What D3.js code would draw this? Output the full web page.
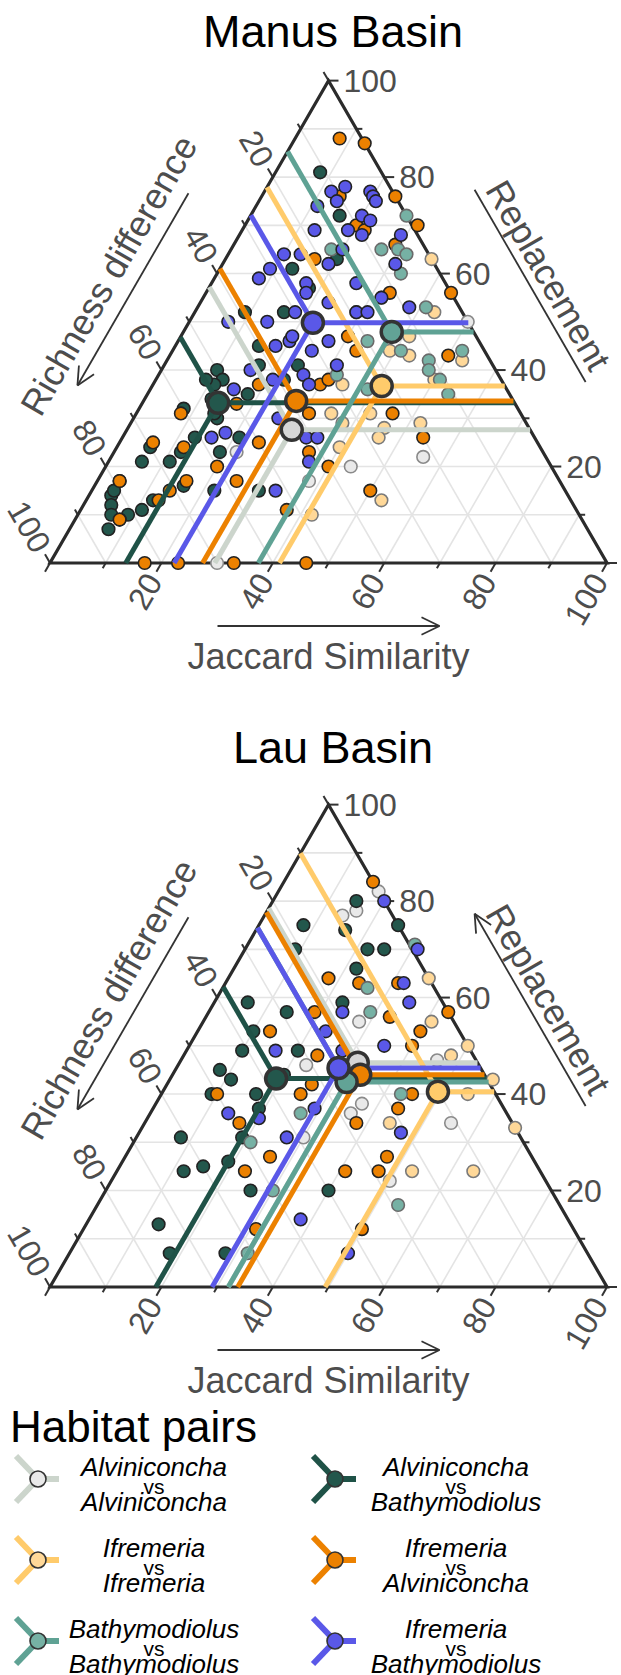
<!DOCTYPE html>
<html>
<head>
<meta charset="utf-8">
<script src="https://cdn.jsdelivr.net/npm/d3@7"></script>
<style>
  body { margin: 0; background: #fff; }
  text { font-family: "Liberation Sans", Arial, sans-serif; }
</style>
</head>
<body>
<svg width="621" height="1675"></svg>
<script>
// habitat pairs, in legend order
const pairs = ['AA', 'AB', 'II', 'IA', 'BB', 'IB'];
const pairTop = ['Alviniconcha', 'Alviniconcha', 'Ifremeria', 'Ifremeria', 'Bathymodiolus', 'Ifremeria'];
const pairBottom = ['Alviniconcha', 'Bathymodiolus', 'Ifremeria', 'Alviniconcha', 'Bathymodiolus', 'Bathymodiolus'];
const lineColors = ['#ccd5cc', '#1f5247', '#ffcb6b', '#ec8100', '#5fa294', '#5a58e8'];
const pointFill = ['#e9e9e9', '#23574c', '#ffd898', '#ec8100', '#76b1a4', '#5a58e8'];
const pointStroke = ['#8a8a8a', '#222', '#7a7a7a', '#222', '#6a6a6a', '#222'];
const meanFill = ['#d6d6d6', '#23574c', '#ffcb6b', '#ec8100', '#62a396', '#5a58e8'];

const ticks = [0, 10, 20, 30, 40, 50, 60, 70, 80, 90, 100];
const tickLabels = ['20', '40', '60', '80', '100'];

// [Jaccard similarity, Replacement]; richness difference = 100 - both
const manusAA = [[56,22],[38,17],[22,23],[30,0],[50,50],[44,20]];
const manusAB = [[8,81],[16,72],[20,63],[13,61],[18,57],[16,52],[9,52],[15,45],[17,41],[24,41],[10,40],[12,38],[11,37],[9,38],[18,35],[23,38],[8,32],[15,30],[13,26],[21,26],[6,24],[12,23],[6,21],[11,21],[19,23],[16,16],[4,17],[4,14],[4,15],[22,15],[30,15],[12,13],[11,11],[9,10],[8,9],[7,7],[12,34],[14,31],[5,12],[6,10]];
const manusII = [[37,63],[32,55],[43,52],[41,47],[39,44],[53,42],[50,38],[34,37],[35,31],[38,29],[46,28],[52,29],[46,26],[40,24],[53,13],[42,10],[43,43],[42,31]];
const manusIA = [[8,88],[13,87],[14,76],[24,76],[31,70],[20,70],[22,69],[29,66],[16,63],[33,56],[44,56],[30,47],[33,44],[50,43],[30,37],[19,37],[17,33],[8,31],[31,31],[46,31],[54,26],[25,25],[35,23],[6,25],[12,24],[20,20],[40,20],[25,17],[16,17],[4,17],[50,15],[14,15],[13,13],[37,11],[17,0],[23,0],[33,0],[46,0],[8,9],[31,38]];
const manusBB = [[28,72],[30,65],[18,65],[27,65],[32,64],[33,60],[41,53],[52,44],[34,46],[41,44],[47,42],[48,40],[54,35],[32,39],[39,36],[51,38],[29,52]];
const manusIB = [[14,78],[12,77],[19,77],[20,76],[21,75],[14,75],[11,74],[20,72],[22,71],[19,69],[22,68],[29,68],[13,69],[10,64],[13,64],[20,65],[31,62],[19,62],[9,61],[8,59],[17,58],[18,56],[26,58],[23,54],[18,52],[29,52],[31,52],[38,53],[14,50],[7,50],[32,55],[27,46],[25,44],[20,46],[31,41],[26,39],[28,37],[16,40],[15,36],[21,38],[26,30],[18,27],[16,26],[33,26],[36,21],[33,15],[20,47],[18,45],[35,26]];
const manusMeans = [[29.6,27.6],[13.6,33.2],[41.2,36.7],[27.4,33.6],[37.4,47.9],[22.3,49.8]];

const lauAA = [[18,82],[16,78],[14,77],[28,55],[23,46],[37,38],[36,36],[55,34],[30,31],[50,22],[46,47]];
const lauAB = [[15,80],[8,75],[25,75],[16,74],[9,70],[22,70],[25,70],[22,66],[23,59],[6,59],[14,57],[10,53],[10,49],[20,49],[8,45],[11,43],[9,40],[17,40],[19,37],[8,31],[19,31],[12,24],[15,25],[19,26],[26,20],[40,20],[13,13],[18,7],[28,7],[20,44]];
const lauII = [[36,64],[41,55],[50,50],[48,48],[55,40],[58,43],[44,34],[67,33],[53,24],[64,24]];
const lauIA = [[16,84],[18,64],[24,63],[31,63],[19,57],[43,57],[33,56],[40,53],[13,53],[40,50],[24,48],[26,42],[10,40],[25,40],[45,40],[44,37],[17,34],[38,34],[26,27],[23,24],[41,24],[47,24],[47,27],[31,12],[50,12]];
const lauBB = [[30,71],[26,62],[29,57],[43,40],[27,36],[21,30],[30,20],[54,17],[32,7]];
const lauIB = [[20,80],[31,70],[35,59],[24,57],[23,53],[35,50],[16,49],[29,37],[14,36],[20,35],[47,32],[27,31],[38,14],[50,7],[32,63],[28,49]];
const lauMeans = [[32.0,46.5],[19.0,43.2],[49.4,40.5],[33.7,44.0],[32.0,42.5],[29.1,45.4]];

const svg = d3.select('svg');
svg.append('rect').attr('width', 621).attr('height', 1675).attr('fill', '#fff');

const x0 = 50;
const side = 557;
const tri = side * Math.sqrt(3) / 2;
const s3 = Math.sqrt(3) / 2;

function arrow(g, cx, cy, dx, dy, len, head) {
  const x1 = cx - dx * len / 2, y1 = cy - dy * len / 2;
  const x2 = cx + dx * len / 2, y2 = cy + dy * len / 2;
  g.append('line')
    .attr('x1', x1).attr('y1', y1).attr('x2', x2).attr('y2', y2)
    .attr('stroke', '#333').attr('stroke-width', 1.8);
  if (!head) return;
  const a = Math.atan2(dy, dx);
  [0.45, -0.45].forEach(d => {
    g.append('line')
      .attr('x1', x2).attr('y1', y2)
      .attr('x2', x2 - 20 * Math.cos(a + d)).attr('y2', y2 - 20 * Math.sin(a + d))
      .attr('stroke', '#333').attr('stroke-width', 1.8);
  });
}

function panel(p) {
  const xs = d3.scaleLinear().domain([0, 100]).range([x0, x0 + side]);
  const ys = d3.scaleLinear().domain([0, 100]).range([p.yb, p.yb - tri]);
  const pos = (j, r) => [xs(j + r / 2), ys(r)];
  const g = svg.append('g');

  g.append('text')
    .attr('x', 333).attr('y', p.titleY)
    .attr('text-anchor', 'middle')
    .attr('font-size', 45).attr('fill', '#000')
    .text(p.title);

  // grid
  const grid = g.append('g').attr('stroke', '#e4e4e4').attr('stroke-width', 1.6);
  ticks.filter(v => v > 0 && v < 100).forEach(v => {
    [[pos(0, v), pos(100 - v, v)],
     [pos(v, 0), pos(v, 100 - v)],
     [pos(0, 100 - v), pos(100 - v, 0)]].forEach(([a, b]) => {
      grid.append('line')
        .attr('x1', a[0]).attr('y1', a[1]).attr('x2', b[0]).attr('y2', b[1]);
    });
  });

  // ticks and labels
  const axes = [
    { at: v => pos(v, 0), dir: [-0.5, s3], rot: -60, anchor: 'end' },
    { at: v => pos(100 - v, v), dir: [1, 0], rot: 0, anchor: 'start' },
    { at: v => pos(0, 100 - v), dir: [-0.5, -s3], rot: 60, anchor: 'end' }
  ];
  axes.forEach(ax => {
    ticks.forEach(v => {
      const [tx, ty] = ax.at(v);
      const len = v % 20 === 0 ? 10 : 6;
      g.append('line')
        .attr('x1', tx).attr('y1', ty)
        .attr('x2', tx + ax.dir[0] * len).attr('y2', ty + ax.dir[1] * len)
        .attr('stroke', '#333').attr('stroke-width', 2);
      const lab = String(v);
      if (tickLabels.includes(lab)) {
        const lx = tx + ax.dir[0] * 15, ly = ty + ax.dir[1] * 15;
        g.append('text')
          .attr('transform', `translate(${lx},${ly}) rotate(${ax.rot})`)
          .attr('text-anchor', ax.anchor)
          .attr('dominant-baseline', 'central')
          .attr('font-size', 32).attr('fill', '#4d4d4d')
          .text(lab);
      }
    });
  });

  // border
  const corners = [pos(0, 0), pos(100, 0), pos(0, 100)];
  g.append('path')
    .attr('d', d3.line()(corners) + 'Z')
    .attr('fill', 'none').attr('stroke', '#2b2b2b').attr('stroke-width', 3.2)
    .attr('stroke-linejoin', 'miter');

  // points
  p.points.forEach((pts, i) => {
    g.append('g').selectAll('circle').data(pts).join('circle')
      .attr('cx', d => pos(d[0], d[1])[0])
      .attr('cy', d => pos(d[0], d[1])[1])
      .attr('r', 6.3)
      .attr('fill', pointFill[i])
      .attr('stroke', pointStroke[i])
      .attr('stroke-width', 1.6);
  });

  // lines from each mean to the three edges
  p.means.forEach((m, i) => {
    const [j, r] = m;
    const d = 100 - j - r;
    const c = pos(j, r);
    [pos(0, r + j), pos(j, 0), pos(j + d, r)].forEach(e => {
      g.append('line')
        .attr('x1', c[0]).attr('y1', c[1]).attr('x2', e[0]).attr('y2', e[1])
        .attr('stroke', lineColors[i]).attr('stroke-width', 5);
    });
  });
  p.means.forEach((m, i) => {
    const c = pos(m[0], m[1]);
    g.append('circle')
      .attr('cx', c[0]).attr('cy', c[1]).attr('r', 10.5)
      .attr('fill', meanFill[i])
      .attr('stroke', '#333').attr('stroke-width', 3.5);
  });

  // axis titles and arrows
  const mids = [
    { m: pos(50, 0), n: [0, 1], rot: 0, text: 'Jaccard Similarity', dir: [1, 0], off: 63, head: true },
    { m: pos(0, 50), n: [-s3, -0.5], rot: -60, text: 'Richness difference', dir: [-0.5, s3], off: 65, head: true },
    { m: pos(50, 50), n: [s3, -0.5], rot: 60, text: 'Replacement', dir: [-0.5, -s3], off: 72, head: p.replHead }
  ];
  mids.forEach(a => {
    arrow(g, a.m[0] + a.n[0] * a.off, a.m[1] + a.n[1] * a.off, a.dir[0], a.dir[1], 222, a.head);
    const tx = a.m[0] + a.n[0] * 93, ty = a.m[1] + a.n[1] * 93;
    g.append('text')
      .attr('transform', `translate(${tx},${ty}) rotate(${a.rot})`)
      .attr('text-anchor', 'middle')
      .attr('dominant-baseline', 'central')
      .attr('font-size', 36).attr('fill', '#4d4d4d')
      .text(a.text);
  });
}

panel({ title: 'Manus Basin', titleY: 47, yb: 563, replHead: false,
  points: [manusAA, manusAB, manusII, manusIA, manusBB, manusIB], means: manusMeans });
panel({ title: 'Lau Basin', titleY: 763, yb: 1287, replHead: true,
  points: [lauAA, lauAB, lauII, lauIA, lauBB, lauIB], means: lauMeans });

// legend
const leg = svg.append('g');
leg.append('text')
  .attr('x', 10).attr('y', 1442)
  .attr('font-size', 44).attr('fill', '#000')
  .text('Habitat pairs');

const colX = [38, 335];
const textX = [154, 456];
const rowY = [1479, 1560, 1641];
pairs.forEach((k, i) => {
  const cx = colX[i % 2], cy = rowY[Math.floor(i / 2)];
  [[-22, -23], [21, 0], [-22, 23]].forEach(dv => {
    leg.append('line')
      .attr('x1', cx).attr('y1', cy)
      .attr('x2', cx + dv[0]).attr('y2', cy + dv[1])
      .attr('stroke', lineColors[i]).attr('stroke-width', 6);
  });
  leg.append('circle')
    .attr('cx', cx).attr('cy', cy).attr('r', 8)
    .attr('fill', pointFill[i]).attr('stroke', '#333').attr('stroke-width', 1.6);
  const tx = textX[i % 2];
  leg.append('text').attr('x', tx).attr('y', cy - 3)
    .attr('text-anchor', 'middle').attr('font-size', 26).attr('font-style', 'italic')
    .text(pairTop[i]);
  leg.append('text').attr('x', tx).attr('y', cy + 15)
    .attr('text-anchor', 'middle').attr('font-size', 21)
    .text('vs');
  leg.append('text').attr('x', tx).attr('y', cy + 32)
    .attr('text-anchor', 'middle').attr('font-size', 26).attr('font-style', 'italic')
    .text(pairBottom[i]);
});
</script>
</body>
</html>
